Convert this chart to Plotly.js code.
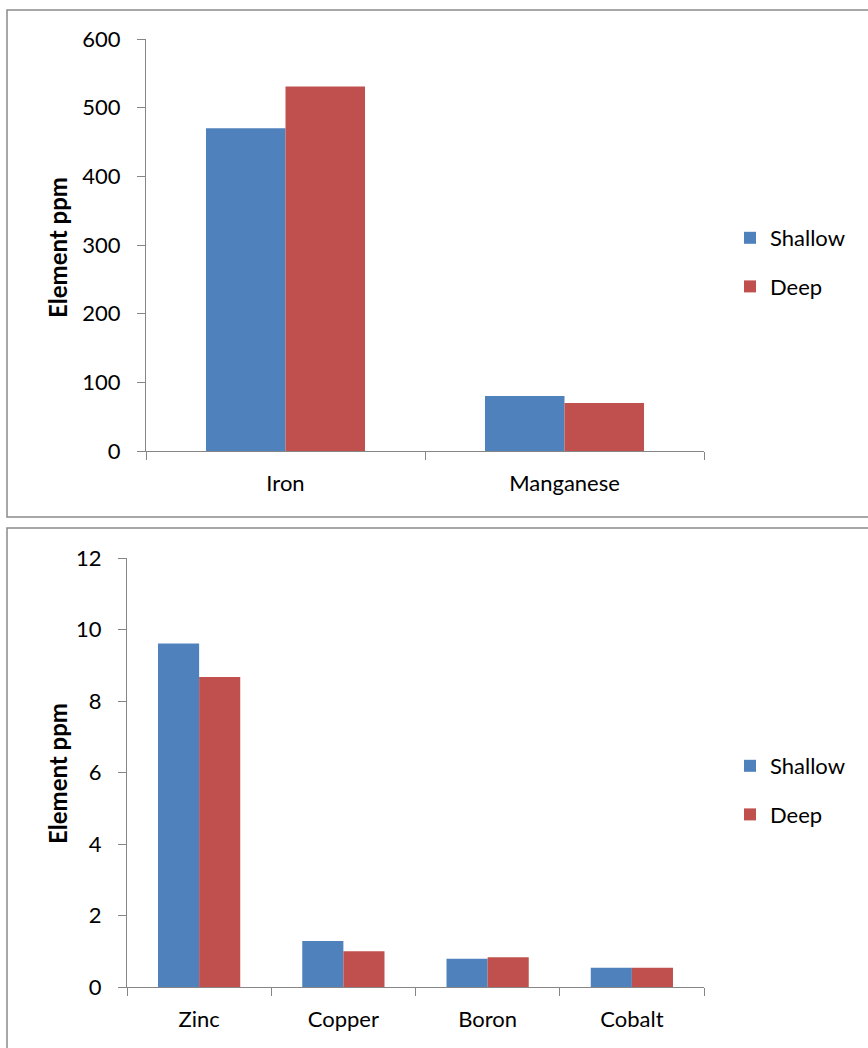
<!DOCTYPE html>
<html>
<head>
<meta charset="utf-8">
<script src="https://cdn.plot.ly/plotly-3.0.1.min.js"></script>
<style>
  html, body { margin: 0; padding: 0; background: #fff; }
  #chart { width: 868px; height: 1048px; }
</style>
</head>
<body>
<div id="chart"></div>
<script>
// top chart: major elements
var topCats = ['Iron', 'Manganese'];
var topShallow = [470, 80];
var topDeep = [531, 70];

// bottom chart: trace elements
var botCats = ['Zinc', 'Copper', 'Boron', 'Cobalt'];
var botShallow = [9.61, 1.29, 0.79, 0.54];
var botDeep = [8.67, 1.0, 0.83, 0.54];

var seriesNames = ['Shallow', 'Deep'];
var blue = '#4F81BD';
var red = '#C0504D';
var axisGrey = '#868686';
var font = 'Lato, "Open Sans", sans-serif';

var W = 868, H = 1048;
function px(x) { return x / W; }
function py(y) { return (H - y) / H; }

var data = [
  {
    x: topCats, y: topShallow, type: 'bar', name: seriesNames[0],
    marker: { color: blue }, xaxis: 'x', yaxis: 'y',
    legend: 'legend', legendgroup: 'a1'
  },
  {
    x: topCats, y: topDeep, type: 'bar', name: seriesNames[1],
    marker: { color: red }, xaxis: 'x', yaxis: 'y',
    legend: 'legend', legendgroup: 'a2'
  },
  {
    x: botCats, y: botShallow, type: 'bar', name: seriesNames[0],
    marker: { color: blue }, xaxis: 'x2', yaxis: 'y2',
    legend: 'legend2', legendgroup: 'b1'
  },
  {
    x: botCats, y: botDeep, type: 'bar', name: seriesNames[1],
    marker: { color: red }, xaxis: 'x2', yaxis: 'y2',
    legend: 'legend2', legendgroup: 'b2'
  }
];

var xCommon = {
  type: 'category',
  showline: true, linecolor: axisGrey, linewidth: 1,
  ticks: 'outside', tickson: 'boundaries', ticklen: 8, tickcolor: axisGrey,
  showgrid: false, zeroline: false, fixedrange: true,
  tickfont: { family: font, size: 22, color: '#000' },
  ticklabelstandoff: 13
};
var yCommon = {
  showline: true, linecolor: axisGrey, linewidth: 1,
  ticks: 'outside', ticklen: 8, tickcolor: axisGrey,
  showgrid: false, zeroline: false, fixedrange: true,
  tickfont: { family: font, size: 22, color: '#000' },
  ticklabelstandoff: 12
};

var legendFont = { family: font, size: 22, color: '#000' };

var layout = {
  width: W, height: H,
  margin: { l: 0, r: 0, t: 0, b: 0 },
  paper_bgcolor: '#fff', plot_bgcolor: '#fff',
  barmode: 'group', bargap: 0.43, bargroupgap: 0,
  showlegend: true,
  xaxis: Object.assign({}, xCommon, { domain: [px(146), px(704)], anchor: 'y' }),
  yaxis: Object.assign({}, yCommon, {
    domain: [py(451), py(39)], anchor: 'x',
    range: [0, 600], dtick: 100
  }),
  xaxis2: Object.assign({}, xCommon, { domain: [px(127), px(704)], anchor: 'y2' }),
  yaxis2: Object.assign({}, yCommon, {
    domain: [py(987), py(558)], anchor: 'x2',
    range: [0, 12], dtick: 2
  }),
  legend: {
    x: px(730), y: py(217), xanchor: 'left', yanchor: 'top',
    font: legendFont,
    traceorder: 'grouped', tracegroupgap: 17, bgcolor: 'rgba(0,0,0,0)'
  },
  legend2: {
    x: px(730), y: py(745), xanchor: 'left', yanchor: 'top',
    font: legendFont,
    traceorder: 'grouped', tracegroupgap: 17, bgcolor: 'rgba(0,0,0,0)'
  },
  annotations: [
    {
      text: '<b>Element ppm</b>', textangle: -90, showarrow: false,
      xref: 'paper', yref: 'paper', x: px(57), y: py(247),
      xanchor: 'center', yanchor: 'middle',
      font: { family: font, size: 24, color: '#000' }
    },
    {
      text: '<b>Element ppm</b>', textangle: -90, showarrow: false,
      xref: 'paper', yref: 'paper', x: px(58), y: py(774),
      xanchor: 'center', yanchor: 'middle',
      font: { family: font, size: 24, color: '#000' }
    }
  ],
  shapes: [
    {
      type: 'rect', xref: 'paper', yref: 'paper',
      x0: px(7), x1: px(880), y0: py(517), y1: py(10),
      line: { color: '#8a8a8a', width: 1.5 }, fillcolor: 'rgba(0,0,0,0)'
    },
    {
      type: 'rect', xref: 'paper', yref: 'paper',
      x0: px(7), x1: px(880), y0: py(1060), y1: py(528),
      line: { color: '#8a8a8a', width: 1.5 }, fillcolor: 'rgba(0,0,0,0)'
    }
  ]
};

var config = { staticPlot: true, displayModeBar: false };

Plotly.newPlot('chart', data, layout, config);
</script>
</body>
</html>
